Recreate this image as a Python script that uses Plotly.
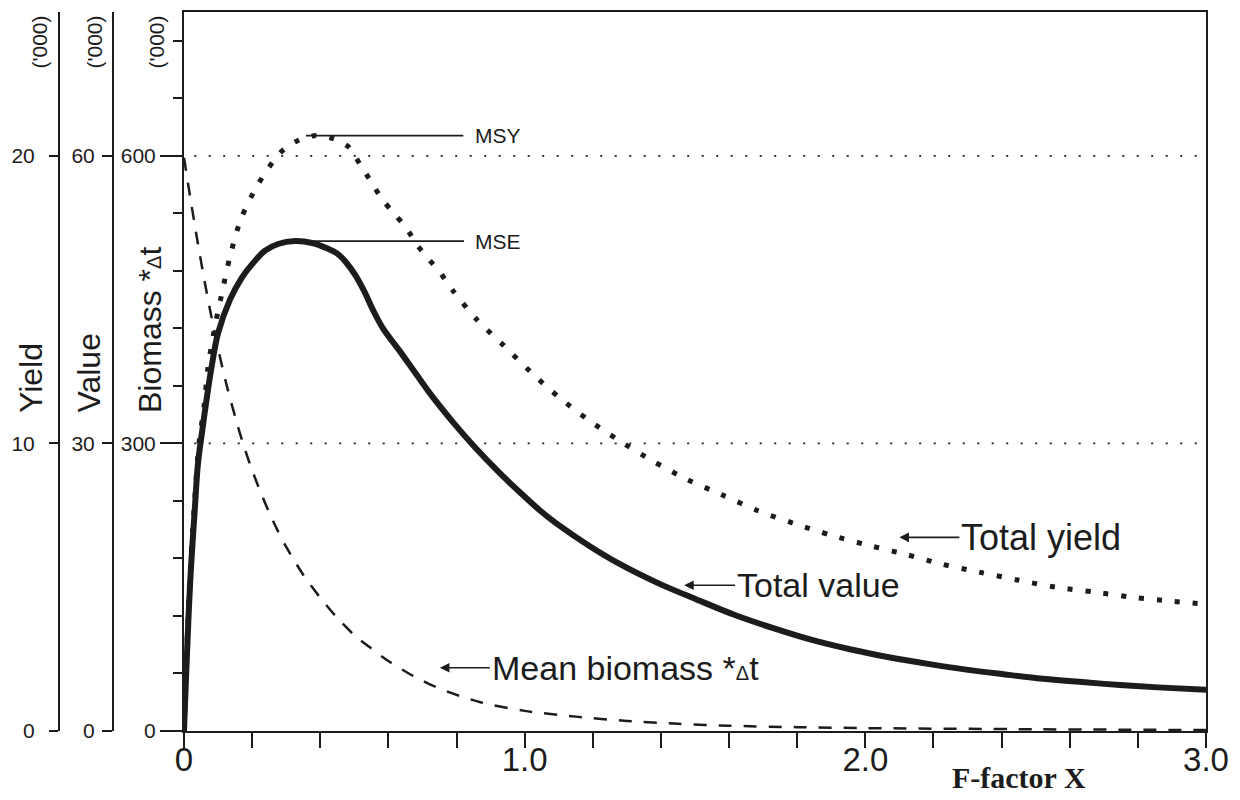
import plotly.graph_objects as go

# ---- data -------------------------------------------------------------
# Total yield ('000 t) against F-factor X
f_yield = [0.0, 0.015, 0.03, 0.044, 0.059, 0.07, 0.088, 0.109, 0.135, 0.167,
           0.217, 0.282, 0.329, 0.382, 0.437, 0.484, 0.517, 0.549, 0.581,
           0.616, 0.652, 0.684, 0.719, 0.754, 0.79, 0.86, 0.939, 1.016,
           1.101, 1.189, 1.277, 1.374, 1.476, 1.576, 1.682, 1.79, 1.899,
           2.008, 2.116, 2.225, 2.336, 2.451, 2.559, 2.674, 2.785, 2.903, 3.0]
total_yield = [0.0, 4.8, 7.8, 10.0, 11.3, 12.6, 13.9, 15.1, 16.5, 17.8,
               19.0, 20.1, 20.5, 20.7, 20.6, 20.3, 19.7, 19.1, 18.5,
               18.0, 17.5, 16.9, 16.4, 15.9, 15.3, 14.3, 13.4, 12.5,
               11.6, 10.8, 10.1, 9.4, 8.75, 8.23, 7.67, 7.22, 6.81,
               6.46, 6.15, 5.8, 5.52, 5.24, 5.0, 4.83, 4.65, 4.51, 4.41]

# Total value ('000) against F-factor X
f_value = [0.0, 0.018, 0.032, 0.041, 0.053, 0.068, 0.082, 0.1, 0.135, 0.17,
           0.2, 0.238, 0.276, 0.326, 0.376, 0.423, 0.45, 0.473, 0.502, 0.53,
           0.555, 0.584, 0.634, 0.684, 0.731, 0.79, 0.854, 0.927, 0.986,
           1.045, 1.095, 1.19, 1.28, 1.393, 1.506, 1.617, 1.732, 1.843,
           1.958, 2.069, 2.184, 2.296, 2.41, 2.521, 2.636, 2.747, 2.859, 3.0]
total_value = [0.0, 15.4, 23.3, 27.9, 31.2, 35.0, 38.2, 41.5, 45.0, 47.3,
               48.7, 50.1, 50.8, 51.1, 50.9, 50.3, 49.8, 49.0, 47.6, 45.8,
               43.9, 42.0, 39.6, 37.1, 34.8, 32.2, 29.6, 26.9, 24.9,
               23.0, 21.6, 19.3, 17.4, 15.4, 13.7, 12.1, 10.7, 9.5,
               8.5, 7.7, 7.0, 6.4, 5.9, 5.45, 5.1, 4.8, 4.55, 4.3]

# Mean biomass * dt ('000 t) against F-factor X
f_biomass = [0.0, 0.02, 0.04, 0.06, 0.08, 0.1, 0.125, 0.15, 0.175, 0.2,
             0.225, 0.25, 0.275, 0.3, 0.35, 0.4, 0.45, 0.5, 0.55, 0.6,
             0.66, 0.72, 0.79, 0.87, 1.0, 1.15, 1.3, 1.45, 1.6, 1.8,
             2.0, 2.5, 3.0]
mean_biomass = [598, 553, 510, 470, 433, 399, 361, 328, 298, 272,
                249, 228, 209, 192, 163, 139, 118, 100, 86, 73,
                60, 49, 39, 30, 21, 15, 10.5, 7.5, 5.5, 4,
                3, 1.8, 1]

x_ticks = [0, 1, 2, 3]
x_tick_text = ["0", "1.0", "2.0", "3.0"]
biomass_ticks = [0, 300, 600]
value_ticks = [0, 30, 60]
yield_ticks = [0, 10, 20]
guide_levels = [300, 600]

# ---- styling ----------------------------------------------------------
INK = "#1c1c1c"
SANS = "Liberation Sans, Arial, Helvetica, sans-serif"
SERIF = "Liberation Serif, Times New Roman, serif"
W, H = 1240, 800
ML, MR, MT, MB = 0, 34, 12, 69
PLOT_W = W - ML - MR
PLOT_H = H - MT - MB


def px_x(px):
    return (px - ML) / PLOT_W


def px_y(py):
    return (H - MB - py) / PLOT_H


fig = go.Figure()

fig.add_trace(go.Scatter(
    x=f_yield, y=total_yield, yaxis="y3", mode="lines", name="Total yield",
    line=dict(color=INK, width=5, dash="5px,13px", shape="spline", smoothing=0.8),
))
fig.add_trace(go.Scatter(
    x=f_value, y=total_value, yaxis="y2", mode="lines", name="Total value",
    line=dict(color=INK, width=6, shape="spline", smoothing=1.0),
))
fig.add_trace(go.Scatter(
    x=f_biomass, y=mean_biomass, yaxis="y", mode="lines", name="Mean biomass",
    line=dict(color=INK, width=2.5, dash="13px,12px", shape="spline", smoothing=0.8),
))

# dotted reference levels across the plot
for lvl in guide_levels:
    fig.add_shape(type="line", xref="x", yref="y", x0=0.03, x1=3.0, y0=lvl, y1=lvl,
                  line=dict(color=INK, width=1.8, dash="2px,12.5px"), layer="below")

# MSY / MSE leader lines at the peaks
msy = max(total_yield)
mse = max(total_value)
fig.add_shape(type="line", xref="x", yref="y3", x0=0.358, x1=0.82, y0=msy, y1=msy,
              line=dict(color=INK, width=1.6))
fig.add_shape(type="line", xref="x", yref="y2", x0=0.302, x1=0.822, y0=mse, y1=mse,
              line=dict(color=INK, width=1.6))

LABEL_FONT = dict(size=34, family=SANS, color=INK)
annotations = [
    dict(x=0.848, y=msy, xref="x", yref="y3", text="MSY", showarrow=False,
         xanchor="left", yanchor="middle", font=dict(size=21, family=SANS, color=INK)),
    dict(x=0.848, y=mse, xref="x", yref="y2", text="MSE", showarrow=False,
         xanchor="left", yanchor="middle", font=dict(size=21, family=SANS, color=INK)),
    # curve labels with arrows
    dict(x=2.10, y=202, xref="x", yref="y", text="Total yield", showarrow=True,
         ax=60, ay=0, xanchor="left", yanchor="middle", arrowhead=2, arrowsize=1.2,
         arrowwidth=1.6, arrowcolor=INK, font=dict(size=36, family=SANS, color=INK)),
    dict(x=1.468, y=152, xref="x", yref="y", text="Total value", showarrow=True,
         ax=51, ay=0, xanchor="left", yanchor="middle", arrowhead=2, arrowsize=1.2,
         arrowwidth=1.6, arrowcolor=INK, font=LABEL_FONT),
    dict(x=0.751, y=66, xref="x", yref="y", showarrow=True,
         text='Mean biomass *<span style="font-size:20px">Δ</span>t',
         ax=50, ay=0, xanchor="left", yanchor="middle", arrowhead=2, arrowsize=1.2,
         arrowwidth=1.6, arrowcolor=INK, font=LABEL_FONT),
    # x-axis title
    dict(x=px_x(1019), y=px_y(777), xref="paper", yref="paper", text="<b>F-factor X</b>",
         showarrow=False, xanchor="center", yanchor="middle",
         font=dict(size=30, family=SERIF, color=INK)),
]

# rotated axis titles and unit tags
for label, cx in [("Yield", 31), ("Value", 89),
                  ('Biomass *<span style="font-size:20px">Δ</span>t', 150)]:
    annotations.append(dict(x=px_x(cx), y=px_y(415), xref="paper", yref="paper",
                            text=label, textangle=-90, showarrow=False,
                            xanchor="center", yanchor="bottom",
                            font=dict(size=32, family=SANS, color=INK)))
for cx in [39, 94, 156]:
    annotations.append(dict(x=px_x(cx), y=px_y(14), xref="paper", yref="paper",
                            text="('000)", textangle=-90, showarrow=False,
                            xanchor="center", yanchor="top",
                            font=dict(size=21, family=SANS, color=INK)))

axis_common = dict(showline=True, linecolor=INK, linewidth=2, ticks="outside",
                   tickcolor=INK, tickwidth=1.6, showgrid=False, zeroline=False,
                   automargin=False,
                   tickfont=dict(size=21, family=SANS, color=INK))

fig.update_layout(
    width=W, height=H,
    margin=dict(l=ML, r=MR, t=MT, b=MB, autoexpand=False),
    paper_bgcolor="white", plot_bgcolor="white",
    showlegend=False,
    xaxis=dict(
        domain=[px_x(184), 1], range=[0, 3], anchor="y", automargin=False,
        showline=True, linecolor=INK, linewidth=2, mirror=True,
        ticks="outside", ticklen=15, tickwidth=1.6, tickcolor=INK,
        tickvals=x_ticks, ticktext=x_tick_text, ticklabelstandoff=-17,
        tickfont=dict(size=33, family=SANS, color=INK),
        minor=dict(dtick=0.2, tick0=0, ticks="outside", ticklen=15,
                   tickwidth=1.6, tickcolor=INK),
        showgrid=False, zeroline=False,
    ),
    yaxis=dict(
        range=[0, 750], anchor="x", mirror=True, ticklen=22,
        tickvals=biomass_ticks, ticklabelstandoff=0,
        minor=dict(dtick=60, tick0=0, ticks="outside", ticklen=9,
                   tickwidth=1.6, tickcolor=INK),
        **axis_common,
    ),
    yaxis2=dict(
        range=[0, 75], overlaying="y", anchor="free", position=px_x(113),
        side="left", ticklen=10, tickvals=value_ticks, ticklabelstandoff=3,
        **axis_common,
    ),
    yaxis3=dict(
        range=[0, 25], overlaying="y", anchor="free", position=px_x(59),
        side="left", ticklen=9, tickvals=yield_ticks, ticklabelstandoff=10,
        **axis_common,
    ),
    annotations=annotations,
)

fig.write_html("out.html")
